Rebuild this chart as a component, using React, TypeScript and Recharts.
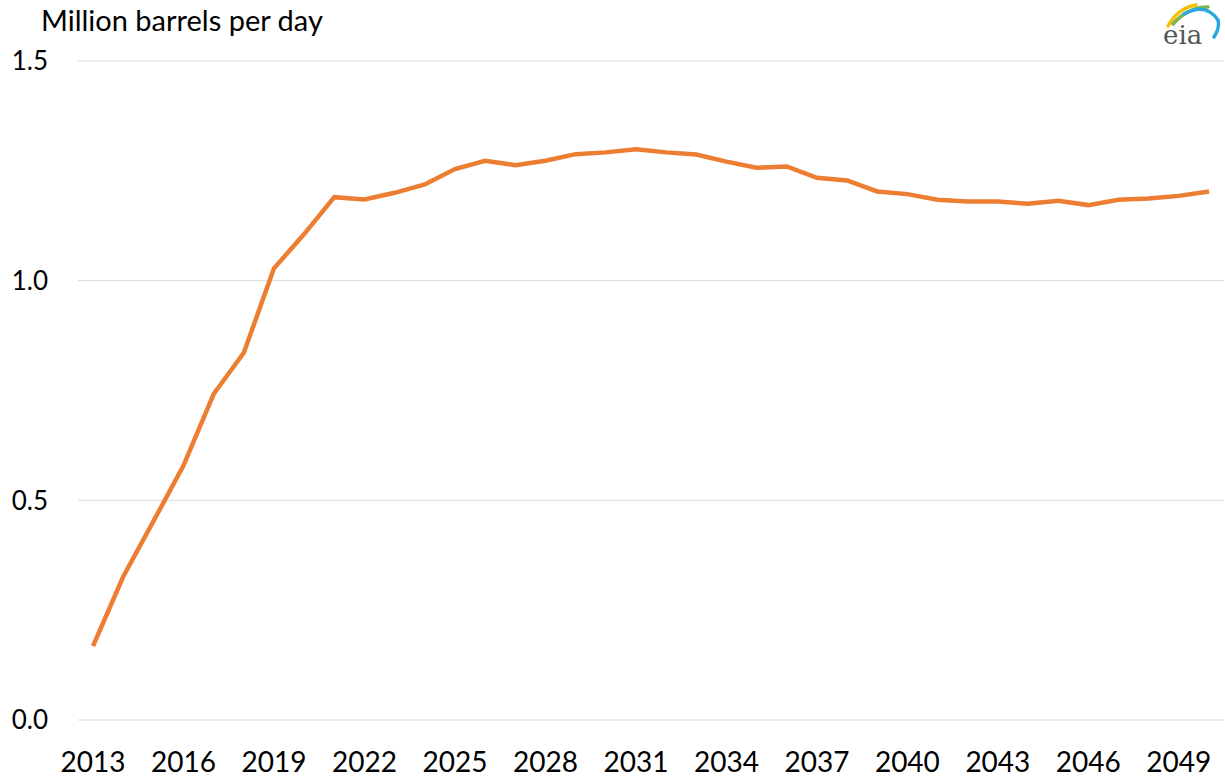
import { LineChart, Line, XAxis, YAxis, CartesianGrid } from 'recharts';

const years = [
  2013, 2014, 2015, 2016, 2017, 2018, 2019, 2020, 2021, 2022,
  2023, 2024, 2025, 2026, 2027, 2028, 2029, 2030, 2031, 2032,
  2033, 2034, 2035, 2036, 2037, 2038, 2039, 2040, 2041, 2042,
  2043, 2044, 2045, 2046, 2047, 2048, 2049, 2050,
];

const production = [
  0.168, 0.326, 0.452, 0.579, 0.742, 0.836, 1.028, 1.106, 1.19, 1.185,
  1.2, 1.219, 1.254, 1.273, 1.263, 1.273, 1.288, 1.292, 1.299, 1.292,
  1.287, 1.271, 1.257, 1.26, 1.234, 1.228, 1.203, 1.197, 1.184, 1.18,
  1.18, 1.175, 1.182, 1.172, 1.184, 1.187, 1.193, 1.203,
];

const yTicks = [0, 0.5, 1.0, 1.5];

const data = years.map((y, i) => ({ year: String(y), value: production[i] }));

const FONT = 'Lato, "Open Sans", sans-serif';

function EiaLogo() {
  return (
    <svg width={70} height={50} style={{ position: 'absolute', left: 1156, top: 0 }}>
      <path d="M12 26 Q22 8 40 5" stroke="#f4c20d" strokeWidth={3.5} fill="none" strokeLinecap="round" />
      <path d="M17 24 Q32 7 52 7" stroke="#7ab648" strokeWidth={3.5} fill="none" strokeLinecap="round" />
      <path d="M28 14 Q50 2 62 20 Q64 28 58 37" stroke="#29a8e0" strokeWidth={3.5} fill="none" strokeLinecap="round" />
      <text x={7} y={44} fontFamily='"DejaVu Serif", serif' fontSize={26} fill="#555">eia</text>
    </svg>
  );
}

export default function App() {
  return (
    <div style={{ position: 'absolute', left: 0, top: 0, width: 1225, height: 778, background: '#fff', fontFamily: FONT }}>
      <div style={{ position: 'absolute', left: 41, top: 5, fontSize: 29, color: '#000', lineHeight: 1, whiteSpace: 'nowrap' }}>
        Million barrels per day
      </div>
      <EiaLogo />
      <LineChart width={1225} height={778} data={data} margin={{ top: 61, right: 1, bottom: 0, left: 0 }}>
        <CartesianGrid vertical={false} stroke="#d9d9d9" strokeWidth={1} />
        <XAxis
          dataKey="year"
          interval={2}
          tickLine={false}
          axisLine={false}
          height={58}
          padding={{ left: 15, right: 15 }}
          tickMargin={26}
          tick={{ fill: '#000', fontSize: 28, fontFamily: FONT }}
        />
        <YAxis
          domain={[0, 1.5]}
          ticks={yTicks}
          width={78}
          tickLine={false}
          axisLine={false}
          tickMargin={24}
          tickFormatter={(v: number) => v.toFixed(1)}
          tick={{ fill: '#000', fontSize: 26, fontFamily: FONT }}
        />
        <Line
          type="linear"
          dataKey="value"
          stroke="#ed7d31"
          strokeWidth={4.5}
          dot={false}
          isAnimationActive={false}
        />
      </LineChart>
    </div>
  );
}
